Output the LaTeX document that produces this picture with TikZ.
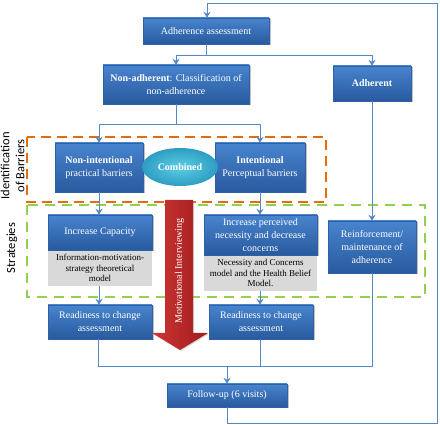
\documentclass[tikz,border=0pt]{standalone}
\usepackage{fontspec}
\setmainfont{Liberation Serif}
\newfontfamily\calfont{Carlito}
\usetikzlibrary{arrows.meta,shadows,shapes.geometric}
\definecolor{conncol}{RGB}{84,135,200}
\definecolor{boxtop}{RGB}{72,132,206}
\definecolor{boxbot}{RGB}{40,90,158}
\definecolor{boxedge}{RGB}{48,96,165}
\definecolor{greyfill}{RGB}{217,217,217}
\definecolor{orangedash}{RGB}{228,108,10}
\definecolor{greendash}{RGB}{146,208,80}
\definecolor{redL}{RGB}{205,52,52}
\definecolor{redR}{RGB}{160,30,30}
\definecolor{ellin}{RGB}{95,205,230}
\definecolor{ellout}{RGB}{45,158,195}
\tikzset{
  bluebox/.style={draw=boxedge, line width=0.4pt, top color=boxtop, bottom color=boxbot,
    text=white, align=center, inner sep=1pt, font=\fontsize{10}{13}\selectfont,
    drop shadow={shadow xshift=1.5pt, shadow yshift=-1.5pt, opacity=0.35, fill=black!70}},
  greybox/.style={fill=greyfill, draw=none, align=center, inner sep=1pt,
    font=\fontsize{9}{10.5}\selectfont, text=black},
  conn/.style={draw=conncol, line width=0.9pt},
  arr/.style={conn, -{Stealth[length=6pt,width=7pt,inset=2pt]}},
  sidelabel/.style={rotate=90, align=center, font=\calfont\fontsize{12.5}{15}\selectfont, text=black}
}
\begin{document}
\begin{tikzpicture}[x=1pt,y=-1pt]
\useasboundingbox (0,0) rectangle (440,425);
% dashed group frames
\draw[orangedash, line width=2.6pt, dash pattern=on 10pt off 6pt] (27,137) rectangle (326,202);
\draw[greendash, line width=2.6pt, dash pattern=on 10pt off 7pt] (27,205) rectangle (425,297);
% side labels
\node[sidelabel] (lblid) at (12.5,166) {Identification\\of Barriers};
\node[sidelabel] (lblst) at (12,248) {Strategies};
% grey boxes
\node[greybox, minimum width=104pt, minimum height=36pt] (capgrey) at (100,268) {Information-motivation-\\strategy theoretical\\model};
\node[greybox, minimum width=113pt, minimum height=36pt] (pergrey) at (260.5,273) {Necessity and Concerns\\model and the Health Belief\\Model.};
% blue boxes
\node[bluebox, minimum width=126pt, minimum height=26pt] (assess) at (206,31) {Adherence assessment};
\node[bluebox, minimum width=146pt, minimum height=39pt] (nonadh) at (176,84.5) {\textbf{Non-adherent}: Classification of\\non-adherence};
\node[bluebox, minimum width=78pt, minimum height=35pt] (adh) at (372,83.5) {\textbf{Adherent}};
\node[bluebox, minimum width=88pt, minimum height=49pt] (nonint) at (99,167.5) {\textbf{Non-intentional}\\practical barriers};
\node[bluebox, minimum width=90pt, minimum height=49pt] (inten) at (260,167.5) {\textbf{Intentional}\\Perceptual barriers};
\node[ellipse, inner color=ellin, outer color=ellout, minimum width=76pt, minimum height=38pt, inner sep=0pt,
  text=white, font=\bfseries\fontsize{10}{12}\selectfont] (comb) at (180,167) {Combined};
\node[bluebox, minimum width=104pt, minimum height=35pt] (capac) at (100,232.5) {Increase Capacity};
\node[bluebox, minimum width=113pt, minimum height=40pt] (percv) at (260.5,235) {Increase perceived\\necessity and decrease\\concerns};
\node[bluebox, minimum width=88pt, minimum height=52pt] (reinf) at (372,247) {Reinforcement/\\maintenance of\\adherence};
\node[bluebox, minimum width=104pt, minimum height=34pt] (readyL) at (100,322) {Readiness to change\\assessment};
\node[bluebox, minimum width=104pt, minimum height=34pt] (readyR) at (261,322) {Readiness to change\\assessment};
\node[bluebox, minimum width=120pt, minimum height=23pt] (follow) at (227,395.5) {Follow-up (6 visits)};
% red arrow
\shade[left color=redL, right color=redR, drop shadow={shadow xshift=1pt, shadow yshift=-1pt, opacity=0.3}]
  (165,200) -- (193,200) -- (193,333) -- (208,333) -- (180,350) -- (152,333) -- (165,333) -- cycle;
\node[rotate=90, text=white, font=\fontsize{10}{12}\selectfont] (mi) at (179.5,271) {Motivational Interviewing};
% coordinates
\coordinate (s1) at (206,55);
\coordinate (s2) at (176,124);
\coordinate (mline) at (0,366);
\coordinate (loopB) at (437,423);
\coordinate (loopT) at (437,3);
% connectors
\draw[conn] (assess.south) -- (s1);
\draw[arr] (s1) -| (nonadh.north);
\draw[arr] (s1) -| (adh.north);
\draw[conn] (nonadh.south) -- (s2);
\draw[arr] (s2) -| (nonint.north);
\draw[arr] (s2) -| (inten.north);
\draw[arr] (nonint.south) -- (nonint.south |- capac.north);
\draw[arr] (inten.south) -- (inten.south |- percv.north);
\draw[arr] (adh.south) -- (reinf.north);
\draw[arr] ([xshift=-1pt]capgrey.south) -- ([xshift=-1pt]readyL.north);
\draw[arr] ([xshift=-0.5pt]pergrey.south) -- ([xshift=-0.5pt]pergrey.south |- readyR.north);
\draw[conn] ([xshift=-2pt]readyL.south) |- (reinf.south |- mline) -- (reinf.south);
\draw[conn] ([xshift=-1pt]readyR.south) -- ([xshift=-1pt]readyR.south |- mline);
\draw[arr] (follow.north |- mline) -- (follow.north);
\draw[arr] (follow.south) -- (follow.south |- loopB) -- (loopB) -- (loopT) -- ([xshift=1pt]assess.north |- loopT) -- ([xshift=1pt]assess.north);
\end{tikzpicture}
\end{document}
